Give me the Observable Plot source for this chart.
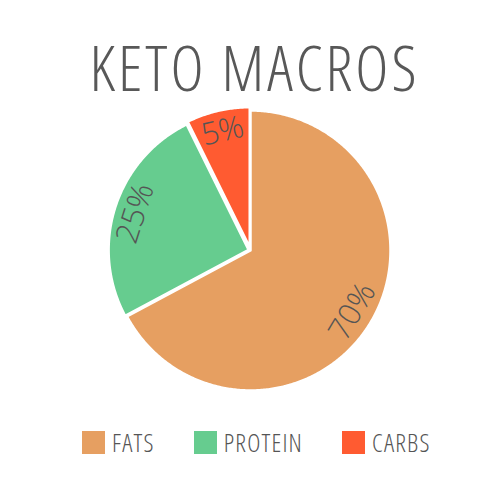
<!DOCTYPE html>
<html>
<head>
<meta charset="utf-8">
<script src="https://cdn.jsdelivr.net/npm/d3@7"></script>
<script src="https://cdn.jsdelivr.net/npm/@observablehq/plot@0.6"></script>
<style>
  html, body { margin: 0; padding: 0; background: #fff; }
  body { width: 500px; height: 480px; overflow: hidden; font-family: "Open Sans", sans-serif; }
  #title { height: 86px; text-align: center; color: #585858; font-weight: 300; font-stretch: 75%; font-size: 63px; line-height: 134px; letter-spacing: 3px; padding-left: 9px; overflow: visible; }
  #chart svg { display: block; overflow: visible; }
  #legend { display: flex; justify-content: flex-start; margin-top: 3px; padding-left: 82px; }
  .keto-swatches { font-family: "Open Sans", sans-serif !important; font-weight: 300; font-stretch: 75%; font-size: 25px !important; letter-spacing: 1.2px; color: #555; margin: 0 !important; }
  .keto-swatch { margin-right: 39px !important; }
  .keto-swatch > svg { margin-right: 7px !important; }
</style>
</head>
<body>
<div id="title">KETO MACROS</div>
<div id="chart"></div>
<div id="legend"></div>
<script>
const categories = ["FATS", "PROTEIN", "CARBS"];
const values = [67.2, 25.5, 7.3];
const labels = ["70%", "25%", "5%"];
const colors = ["#E69F61", "#66CC8F", "#FF5B31"];
const explode = [0, 0.014, 0.024];

const pie = d3.pie().sort(null).value(d => d)(values);
const deg = r => r * 180 / Math.PI;

const slicePoints = [];
const labelRows = [];
pie.forEach((p, i) => {
  const mid = (p.startAngle + p.endAngle) / 2;
  const ox = explode[i] * Math.sin(mid), oy = explode[i] * Math.cos(mid);
  slicePoints.push({name: categories[i], x: ox, y: oy});
  const n = Math.max(2, Math.ceil((p.endAngle - p.startAngle) / 0.01));
  for (let k = 0; k <= n; k++) {
    const a = p.startAngle + (p.endAngle - p.startAngle) * k / n;
    slicePoints.push({name: categories[i], x: ox + Math.sin(a), y: oy + Math.cos(a)});
  }
  let m = deg(mid);
  let rot = m > 270 ? m - 360 : (m > 90 ? m - 180 : m);
  labelRows.push({label: labels[i], x: ox + 0.85 * Math.sin(mid), y: oy + 0.85 * Math.cos(mid), rotate: rot});
});

const cx = 250, cy = 164, R = 140;
const plot = Plot.plot({
  width: 500,
  height: 336,
  margin: 0,
  x: {domain: [-1, 1], range: [cx - R, cx + R], axis: null},
  y: {domain: [-1, 1], range: [cy + R, cy - R], axis: null},
  color: {domain: categories, range: colors},
  marks: [
    Plot.line(slicePoints, {x: "x", y: "y", z: "name", fill: "name", stroke: "white", strokeWidth: 2.5, curve: "linear-closed"}),
    Plot.text(labelRows, {x: "x", y: "y", text: "label", rotate: "rotate", fill: "#555", fontSize: 31, fontFamily: "Open Sans", fontWeight: 300, style: "font-stretch: 78%"})
  ]
});
document.getElementById("chart").appendChild(plot);

const legend = Plot.legend({
  color: {domain: categories, range: colors},
  legend: "swatches",
  swatchSize: 23,
  className: "keto"
});
document.getElementById("legend").appendChild(legend);
</script>
</body>
</html>
